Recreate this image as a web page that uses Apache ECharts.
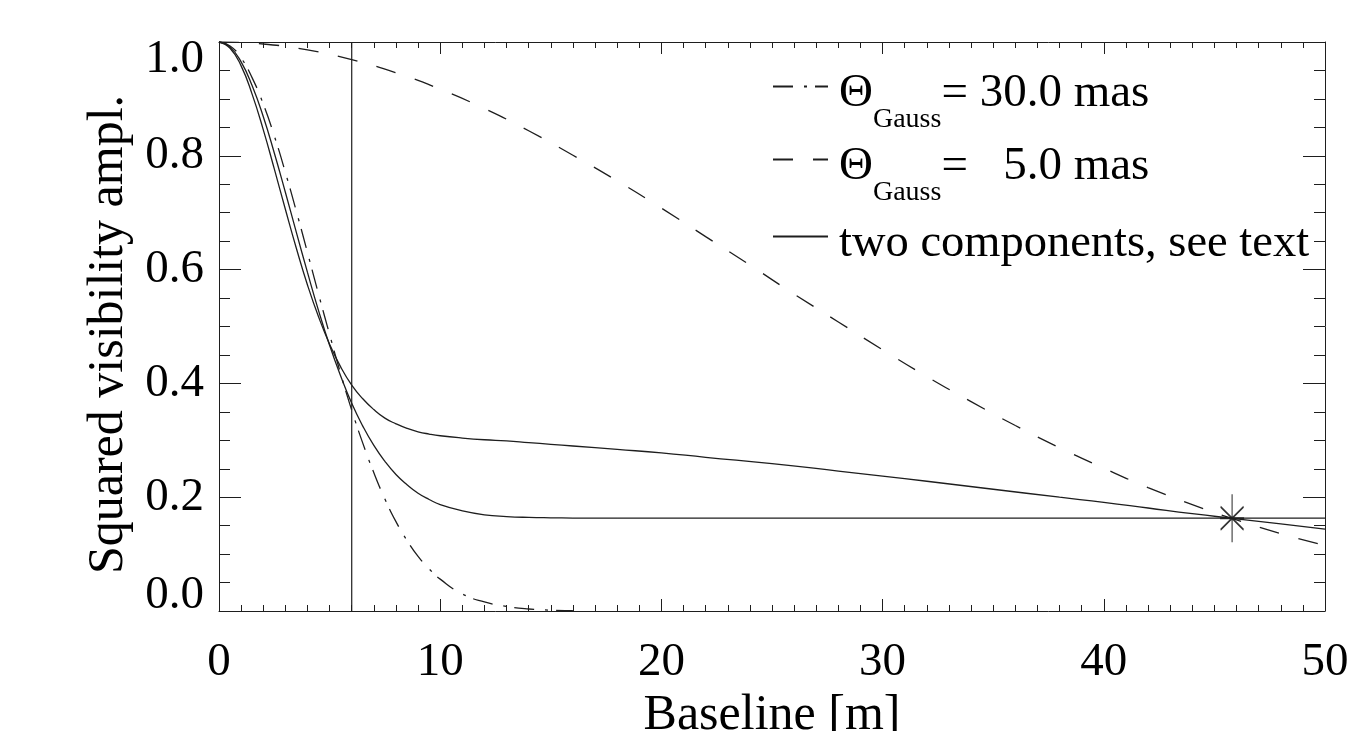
<!DOCTYPE html>
<html>
<head>
<meta charset="utf-8">
<script src="https://cdn.jsdelivr.net/npm/echarts@6/dist/echarts.min.js"></script>
<style>html,body{margin:0;padding:0;background:#fff}#c{width:1351px;height:731px}</style>
</head>
<body>
<div id="c"></div>
<script>
// ---- data ----
const xTickLabels = ['0','10','20','30','40','50'];
const yTickLabels = ['0.0','0.2','0.4','0.6','0.8','1.0'];

// Gaussian, 30 mas (dash-dot)
const base30 = [0,0.5,1,1.5,2,2.5,3,3.5,4,4.5,5,5.5,6,6.5,7,7.5,8,8.5,9,9.5,10,11,12,13,14,15,16];
const vis30  = [1,0.993,0.972,0.937,0.891,0.835,0.771,0.702,0.630,0.557,0.486,0.417,0.353,0.295,0.243,0.197,0.157,0.124,0.096,0.074,0.056,0.030,0.016,0.008,0.0035,0.0015,0.0006];

// Gaussian, 5 mas (dashed)
const base5 = [0,2,4,6,8,10,12,14,16,18,20,22,24,26,28,30,32,34,36,38,40,42,44,46,48,50];
const vis5  = [1,0.9965,0.986,0.969,0.946,0.917,0.883,0.844,0.801,0.756,0.708,0.658,0.608,0.557,0.508,0.459,0.412,0.368,0.326,0.287,0.251,0.217,0.187,0.160,0.136,0.115];

// two components, curve A (slowly declining)
const baseA = [0,0.5,1,1.5,2,2.5,3,3.5,4,4.5,5,5.5,6,6.5,7,7.5,8,8.5,9,9.5,10,11,12,13,14,15,16,18,20,22,25,28,30,32,35,38,40,42,44,46,48,50];
const visA  = [1,0.989,0.958,0.908,0.846,0.777,0.706,0.637,0.573,0.517,0.469,0.429,0.397,0.373,0.354,0.339,0.329,0.321,0.315,0.311,0.308,0.304,0.301,0.299,0.296,0.293,0.290,0.284,0.278,0.270,0.259,0.246,0.237,0.228,0.214,0.200,0.191,0.181,0.171,0.162,0.153,0.144];

// two components, curve B (levels off)
const baseB = [0,0.5,1,1.5,2,2.5,3,3.5,4,4.5,5,5.5,6,6.5,7,7.5,8,8.5,9,9.5,10,11,12,13,14,15,16,18,20,25,30,35,40,45,50];
const visB  = [1,0.991,0.965,0.923,0.869,0.805,0.736,0.665,0.595,0.528,0.467,0.413,0.365,0.325,0.291,0.263,0.240,0.222,0.207,0.196,0.187,0.176,0.169,0.166,0.1645,0.1638,0.1634,0.1632,0.1632,0.1632,0.1632,0.1632,0.1632,0.1632,0.1632];

// marker and vertical reference line
const starPoint = [45.8, 0.163];
const refLineX = 6;

const zip = (xs, ys) => xs.map((x, i) => [x, ys[i]]);

const FONT = 'Liberation Serif';
const INK = '#1e1e1e';

const chart = echarts.init(document.getElementById('c'), null, {renderer: 'canvas'});

const axisCommonX = {
  type: 'value', min: 0, max: 50, interval: 10,
  axisLine: {show: true, onZero: false, lineStyle: {color: INK, width: 1}},
  axisTick: {show: true, inside: true, length: 12, lineStyle: {color: INK, width: 1}},
  minorTick: {show: true, splitNumber: 10, length: 6, lineStyle: {color: INK, width: 1}},
  splitLine: {show: false}
};
const axisCommonY = {
  type: 'value', min: 0, max: 1, interval: 0.2,
  axisLine: {show: true, onZero: false, lineStyle: {color: INK, width: 1}},
  axisTick: {show: true, inside: true, length: 22, lineStyle: {color: INK, width: 1}},
  minorTick: {show: true, splitNumber: 4, length: 11, lineStyle: {color: INK, width: 1}},
  splitLine: {show: false}
};

const legendRich = {
  t: {fontFamily: FONT, fontSize: 47, color: '#000', padding: [14, 0, 0, 6]},
  s: {fontFamily: FONT, fontSize: 28, color: '#000', padding: [66, 0, 0, 0]},
  m: {fontFamily: FONT, fontSize: 47, color: '#000', padding: [14, 0, 0, 0]},
  p: {fontFamily: FONT, fontSize: 46.5, color: '#000', padding: [14, 0, 0, 6]}
};
const legendText = {
  'theta30': '{t|Θ}{s|Gauss}{m|= 30.0 mas}',
  'theta5': '{t|Θ}{s|Gauss}{m|=   5.0 mas}',
  'two components, see text': '{p|two components, see text}'
};
function mkLegend(name, top) {
  return {
    data: [name], left: 772, top: top, padding: 0, itemGap: 0,
    itemWidth: 55, itemHeight: 14, orient: 'vertical',
    selectedMode: false,
    itemStyle: {opacity: 0},
    formatter: n => legendText[n],
    textStyle: {rich: legendRich, fontFamily: FONT, fontSize: 47, color: '#000'}
  };
}

chart.setOption({
  backgroundColor: '#fff',
  animation: false,
  textStyle: {fontFamily: FONT},
  grid: {left: 219, right: 26, top: 42, bottom: 120, containLabel: false, outerBoundsMode: 'none'},
  legend: [
    mkLegend('theta30', 70),
    mkLegend('theta5', 143),
    mkLegend('two components, see text', 220)
  ],
  xAxis: [
    Object.assign({}, axisCommonX, {
      position: 'bottom',
      name: 'Baseline [m]', nameLocation: 'middle', nameGap: 70,
      nameTextStyle: {fontFamily: FONT, fontSize: 50, color: '#000'},
      axisLabel: {show: true, margin: 28, fontFamily: FONT, fontSize: 47, color: '#000',
        formatter: v => xTickLabels[Math.round(v / 10)]}
    }),
    Object.assign({}, axisCommonX, {position: 'top', axisLabel: {show: false}})
  ],
  yAxis: [
    Object.assign({}, axisCommonY, {
      position: 'left',
      name: 'Squared visibility ampl.', nameLocation: 'middle', nameGap: 62,
      nameTextStyle: {fontFamily: FONT, fontSize: 50, color: '#000', padding: [0, 16, 0, 0]},
      axisLabel: {show: true, margin: 15, fontFamily: FONT, fontSize: 47, color: '#000',
        formatter: v => {
          const i = Math.round(v * 5);
          if (i === 0) return '{lo|' + yTickLabels[i] + '}';
          if (i === 5) return '{hi|' + yTickLabels[i] + '}';
          return yTickLabels[i];
        },
        rich: {
          lo: {fontFamily: FONT, fontSize: 47, color: '#000', padding: [0, 0, 30, 0]},
          hi: {fontFamily: FONT, fontSize: 47, color: '#000', padding: [36, 0, 0, 0]}
        }
      }
    }),
    Object.assign({}, axisCommonY, {position: 'right', axisLabel: {show: false}})
  ],
  series: [
    {
      name: 'theta30', type: 'line', data: zip(base30, vis30), symbol: 'none', color: INK,
      smooth: 0.5, clip: true,
      lineStyle: {color: INK, width: 1.3, type: [20, 11, 3, 8]}
    },
    {
      name: 'theta5', type: 'line', data: zip(base5, vis5), symbol: 'none', color: INK,
      smooth: 0.5, clip: true,
      lineStyle: {color: INK, width: 1.3, type: [20, 20]}
    },
    {
      name: 'two components, see text', type: 'line', data: zip(baseA, visA), symbol: 'none', color: INK,
      smooth: 0.5, clip: true,
      lineStyle: {color: INK, width: 1.3, type: 'solid'}
    },
    {
      name: 'two components B', type: 'line', data: zip(baseB, visB), symbol: 'none', color: INK,
      smooth: 0.5, clip: true,
      lineStyle: {color: INK, width: 1.3, type: 'solid'}
    },
    {
      name: 'reference', type: 'line', data: [[refLineX, 0], [refLineX, 1]], symbol: 'none', color: INK,
      lineStyle: {color: INK, width: 1.2}
    },
    {
      name: 'point', type: 'scatter', data: [starPoint],
      symbol: 'path://M12,0L12,48M0.5,12.5L23.5,35.5M0.5,35.5L23.5,12.5M0,24L24,24',
      symbolSize: [24, 48],
      itemStyle: {color: 'rgba(0,0,0,0)', borderColor: '#000', borderWidth: 1.5}
    }
  ]
});
</script>
</body>
</html>
